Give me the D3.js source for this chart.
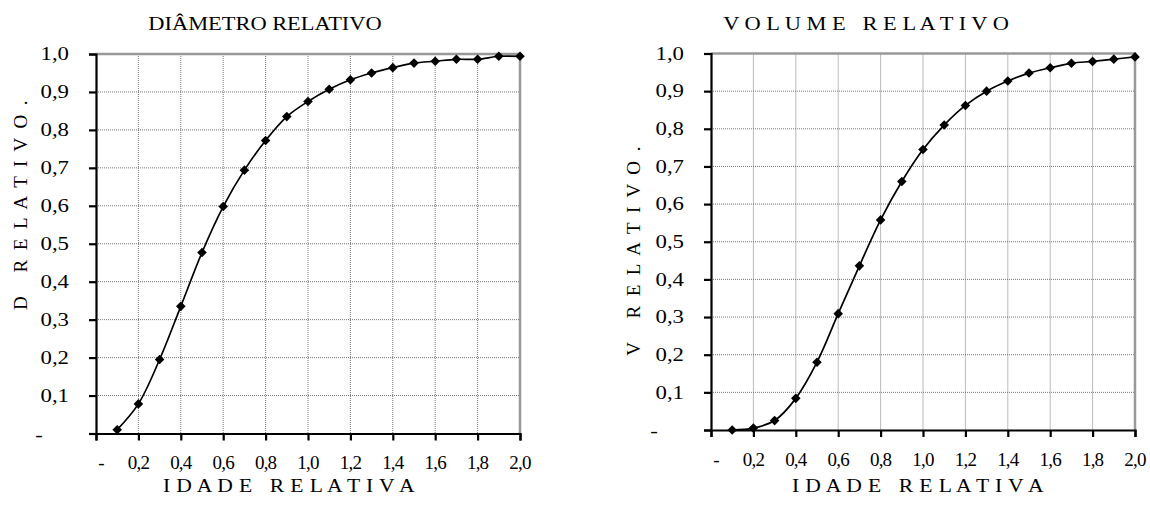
<!DOCTYPE html>
<html><head><meta charset="utf-8">
<script src="https://cdn.jsdelivr.net/npm/d3@7"></script>
<style>html,body{margin:0;padding:0;background:#fff;} svg{display:block;} text{font-family:"Liberation Serif","Times New Roman",serif;fill:#000;white-space:pre;}</style>
</head><body><svg id="c" width="1150" height="518"></svg>
<script>
const idade = [0.1,0.2,0.3,0.4,0.5,0.6,0.7,0.8,0.9,1.0,1.1,1.2,1.3,1.4,1.5,1.6,1.7,1.8,1.9,2.0];
const diametro = [0.01,0.078,0.195,0.335,0.477,0.598,0.694,0.772,0.835,0.875,0.907,0.932,0.950,0.964,0.976,0.981,0.986,0.986,0.994,0.994];
const volume = [0.0,0.005,0.025,0.084,0.18,0.309,0.436,0.558,0.66,0.745,0.81,0.862,0.90,0.927,0.948,0.962,0.974,0.979,0.985,0.991];
const xTickValues = [0,0.2,0.4,0.6,0.8,1.0,1.2,1.4,1.6,1.8,2.0];
const xTickLabels = ["-","0,2","0,4","0,6","0,8","1,0","1,2","1,4","1,6","1,8","2,0"];
const yTickValues = [0,0.1,0.2,0.3,0.4,0.5,0.6,0.7,0.8,0.9,1.0];
const yTickLabels = ["-","0,1","0,2","0,3","0,4","0,5","0,6","0,7","0,8","0,9","1,0"];
const titles = ["DIÂMETRO RELATIVO","V O L U M E   R E L A T I V O"];
const yTitles = ["D   R E L A T I V O .","V   R E L A T I V O ."];
const xTitle = "I D A D E   R E L A T I V A";

const svg = d3.select("#c");
function txt(g,x,y,s,size,anchor,sx,rot){
  const t = g.append("text").text(s).attr("font-size",size).attr("text-anchor",anchor||"middle")
   .attr("dominant-baseline","central");
  t.attr("transform",`translate(${x},${y})`+(rot?` rotate(${rot})`:"")+` scale(${sx},1)`);
  return t;
}
const panels = [
 {vals:diametro, L:96, R:520, T:54, B:433.5, title:titles[0], tx:265, ty:23, yt:yTitles[0], ytx:20, yty:204, xtx:289, xty:486, xly:462},
 {vals:volume, L:711, R:1135, T:53.5, B:430, title:titles[1], tx:866, ty:23, yt:yTitles[1], ytx:633, yty:250, xtx:918, xty:486, xly:459}
];
panels.forEach(p=>{
  const g = svg.append("g");
  const x = d3.scaleLinear().domain([0,2]).range([p.L,p.R]);
  const y = d3.scaleLinear().domain([0,1]).range([p.B,p.T]);
  g.selectAll(".gy").data(yTickValues.slice(1)).enter().append("line")
   .attr("x1",p.L).attr("x2",p.R).attr("y1",d=>y(d)).attr("y2",d=>y(d))
   .attr("stroke","#777").attr("stroke-width",1).attr("stroke-dasharray","1,1");
  g.selectAll(".gx").data(xTickValues.slice(1)).enter().append("line")
   .attr("y1",p.T).attr("y2",p.B).attr("x1",d=>x(d)).attr("x2",d=>x(d))
   .attr("stroke","#777").attr("stroke-width",1).attr("stroke-dasharray","1,1");
  g.append("path").attr("d",`M${p.L},${y(1)}H${x(2)}V${p.B}`).attr("fill","none").attr("stroke","#999").attr("stroke-width",2.5);
  const ax = g.append("g").attr("transform",`translate(0,${p.B})`)
    .call(d3.axisBottom(x).tickValues(xTickValues).tickSize(7).tickFormat(""));
  const ay = g.append("g").attr("transform",`translate(${p.L},0)`)
    .call(d3.axisLeft(y).tickValues(yTickValues).tickSize(7).tickFormat(""));
  [ax,ay].forEach(a=>{a.selectAll("path,line").attr("stroke","#000").attr("stroke-width",2.2);});
  xTickValues.forEach((v,i)=>{
    txt(g, x(v)+(i===0?5:0), p.xly, xTickLabels[i], 19, "middle", 1.0).attr("letter-spacing",-0.8);
  });
  yTickValues.forEach((v,i)=>{
    if(i===0) txt(g, p.L-57, y(v)+1, yTickLabels[i], 19, "middle", 1.2);
    else txt(g, p.L-27, y(v), yTickLabels[i], 19, "end", 1.2);
  });
  txt(g,p.tx,p.ty,p.title,19,"middle",1.18);
  txt(g,p.xtx,p.xty,xTitle,18,"middle",1.2).attr("letter-spacing",0.3);
  txt(g,p.ytx,p.yty,p.yt,19,"middle",1.0,-90).attr("letter-spacing",2.4);
  const pts = idade.map((d,i)=>[d,p.vals[i]]);
  g.append("path").datum(pts).attr("fill","none").attr("stroke","#000").attr("stroke-width",1.7)
   .attr("d",d3.line().x(d=>x(d[0])).y(d=>y(d[1])).curve(d3.curveCatmullRom));
  const sym = d3.symbol().type(d3.symbolSquare).size(46);
  g.selectAll(".m").data(pts).enter().append("path").attr("d",sym)
   .attr("transform",d=>`translate(${x(d[0])},${y(d[1])}) rotate(45)`).attr("fill","#000");
});
</script></body></html>
